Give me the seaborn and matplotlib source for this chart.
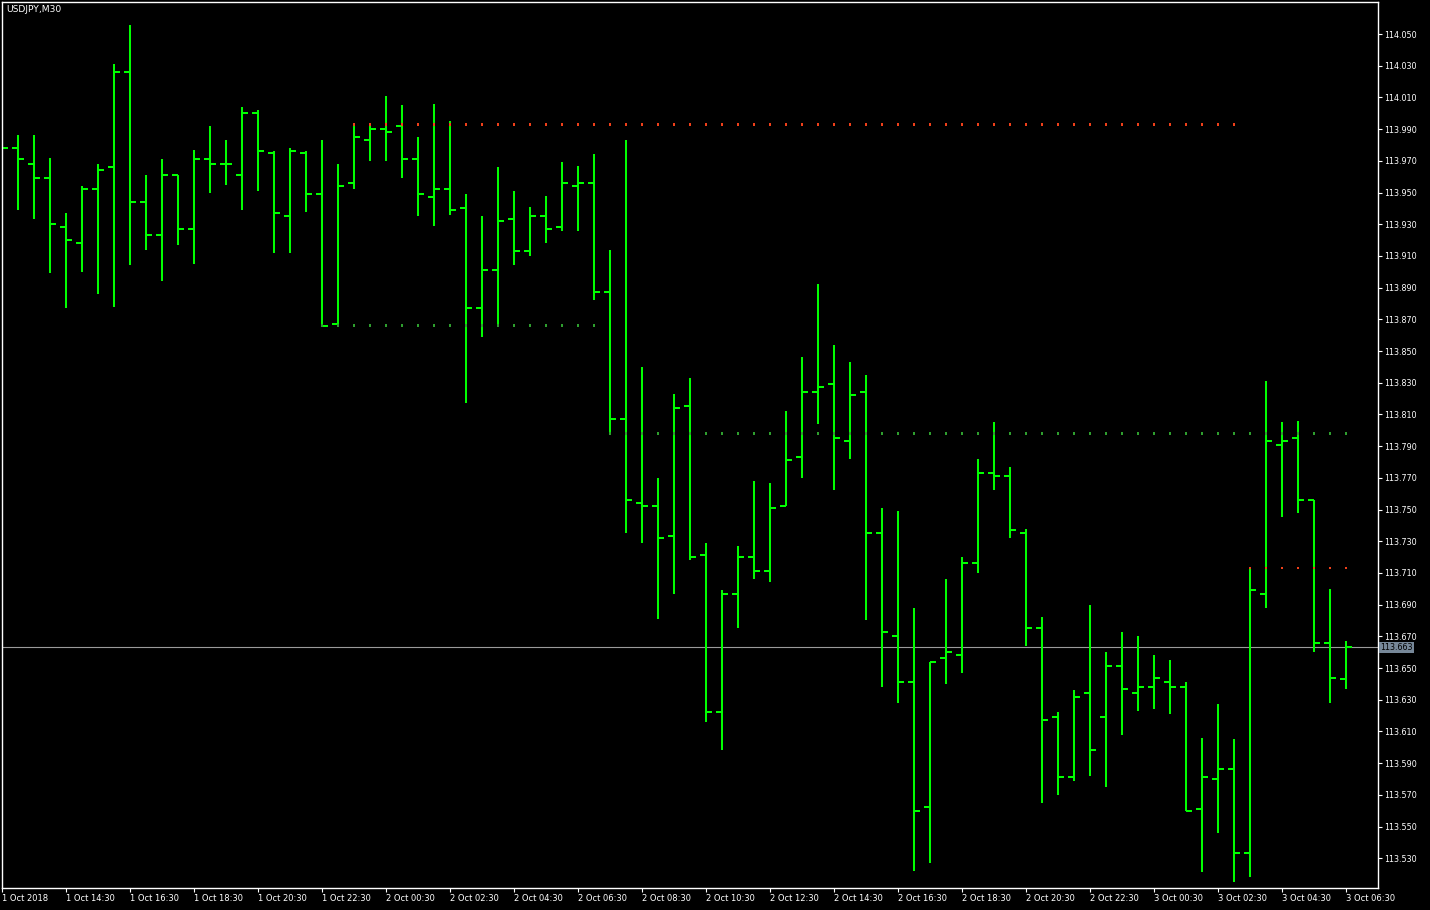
import numpy as np
import pandas as pd
import matplotlib
matplotlib.use('Agg')
import matplotlib.pyplot as plt
import matplotlib.transforms as mtransforms
import seaborn as sns

# USDJPY M30 bars, 1 Oct 2018 12:30 -> 3 Oct 2018 06:30 (85 bars)
opens = [113.978, 113.978, 113.968, 113.959, 113.928, 113.918, 113.952, 113.966, 114.026, 113.944,
         113.923, 113.961, 113.927, 113.971, 113.968, 113.961, 114.000, 113.975, 113.935, 113.975,
         113.949, 113.867, 113.956, 113.983, 113.990, 113.992, 113.971, 113.947, 113.952, 113.940,
         113.877, 113.901, 113.933, 113.913, 113.935, 113.928, 113.954, 113.956, 113.887, 113.807,
         113.754, 113.752, 113.733, 113.815, 113.721, 113.622, 113.697, 113.720, 113.711, 113.752,
         113.783, 113.824, 113.829, 113.793, 113.824, 113.735, 113.670, 113.641, 113.562, 113.656,
         113.658, 113.716, 113.773, 113.771, 113.735, 113.675, 113.619, 113.581, 113.634, 113.619,
         113.651, 113.634, 113.638, 113.641, 113.638, 113.561, 113.580, 113.586, 113.533, 113.697,
         113.791, 113.795, 113.756, 113.666, 113.643]
highs = [113.982, 113.986, 113.986, 113.972, 113.937, 113.954, 113.968, 114.031, 114.056, 113.961,
         113.971, 113.961, 113.977, 113.992, 113.983, 114.004, 114.002, 113.976, 113.978, 113.976,
         113.983, 113.968, 113.993, 113.992, 114.011, 114.005, 113.985, 114.006, 113.995, 113.949,
         113.935, 113.966, 113.951, 113.941, 113.948, 113.969, 113.967, 113.974, 113.914, 113.983,
         113.840, 113.770, 113.823, 113.833, 113.729, 113.699, 113.727, 113.768, 113.767, 113.812,
         113.846, 113.892, 113.854, 113.843, 113.835, 113.751, 113.749, 113.688, 113.654, 113.706,
         113.720, 113.782, 113.805, 113.777, 113.738, 113.682, 113.622, 113.636, 113.690, 113.660,
         113.673, 113.670, 113.658, 113.655, 113.641, 113.606, 113.627, 113.605, 113.713, 113.831,
         113.805, 113.806, 113.756, 113.700, 113.667]
lows = [113.975, 113.939, 113.933, 113.899, 113.877, 113.900, 113.886, 113.878, 113.904, 113.914,
        113.894, 113.917, 113.905, 113.950, 113.955, 113.939, 113.951, 113.912, 113.912, 113.938,
        113.866, 113.866, 113.952, 113.970, 113.970, 113.959, 113.935, 113.929, 113.936, 113.817,
        113.859, 113.866, 113.904, 113.910, 113.918, 113.926, 113.926, 113.882, 113.798, 113.735,
        113.729, 113.681, 113.697, 113.718, 113.616, 113.598, 113.675, 113.706, 113.704, 113.752,
        113.770, 113.804, 113.762, 113.782, 113.680, 113.638, 113.628, 113.522, 113.527, 113.640,
        113.647, 113.710, 113.762, 113.732, 113.664, 113.565, 113.570, 113.579, 113.582, 113.575,
        113.608, 113.623, 113.624, 113.621, 113.560, 113.521, 113.546, 113.515, 113.518, 113.688,
        113.745, 113.748, 113.660, 113.628, 113.637]
closes = [113.978, 113.971, 113.959, 113.930, 113.920, 113.952, 113.964, 114.026, 113.944, 113.923,
          113.961, 113.927, 113.971, 113.968, 113.968, 114.000, 113.976, 113.937, 113.976, 113.949,
          113.866, 113.954, 113.985, 113.990, 113.988, 113.971, 113.949, 113.952, 113.939, 113.877,
          113.901, 113.932, 113.913, 113.935, 113.927, 113.956, 113.956, 113.887, 113.807, 113.756,
          113.752, 113.732, 113.814, 113.720, 113.622, 113.697, 113.720, 113.711, 113.751, 113.781,
          113.824, 113.827, 113.795, 113.822, 113.735, 113.673, 113.641, 113.560, 113.654, 113.660,
          113.716, 113.773, 113.771, 113.737, 113.675, 113.617, 113.581, 113.632, 113.598, 113.651,
          113.637, 113.638, 113.644, 113.638, 113.560, 113.581, 113.586, 113.533, 113.699, 113.793,
          113.793, 113.756, 113.666, 113.644, 113.663]

# support / resistance levels (dotted)
level_price = [113.866, 113.993, 113.798, 113.713]
level_start = [20, 22, 38, 78]
level_end = [37, 77, 84, 84]
level_kind = ['support', 'resistance', 'support', 'resistance']

bid = 113.663
time_labels = ['1 Oct 2018', '1 Oct 14:30', '1 Oct 16:30', '1 Oct 18:30', '1 Oct 20:30',
               '1 Oct 22:30', '2 Oct 00:30', '2 Oct 02:30', '2 Oct 04:30', '2 Oct 06:30',
               '2 Oct 08:30', '2 Oct 10:30', '2 Oct 12:30', '2 Oct 14:30', '2 Oct 16:30',
               '2 Oct 18:30', '2 Oct 20:30', '2 Oct 22:30', '3 Oct 00:30', '3 Oct 02:30',
               '3 Oct 04:30', '3 Oct 06:30']
price_ticks = [113.53, 113.55, 113.57, 113.59, 113.61, 113.63, 113.65, 113.67, 113.69,
               113.71, 113.73, 113.75, 113.77, 113.79, 113.81, 113.83, 113.85, 113.87,
               113.89, 113.91, 113.93, 113.95, 113.97, 113.99, 114.01, 114.03, 114.05]

sns.set_style('dark', {'axes.facecolor': 'black', 'figure.facecolor': 'black',
                       'axes.edgecolor': 'white', 'xtick.color': 'white', 'ytick.color': 'white',
                       'text.color': 'white'})
plt.rcParams['font.family'] = ['DejaVu Sans']

fig = plt.figure(figsize=(14.3, 9.1), dpi=100)
ax = fig.add_axes([2 / 1430, 22 / 910, 1376 / 1430, 886 / 910])
ax.set_facecolor('black')

# bid line
ax.axhline(bid, color='#9a9a9a', lw=0.8, zorder=1.5)

# OHLC bars
idx = np.arange(len(opens))
green = '#00ff00'
ax.vlines(idx, lows, highs, color=green, lw=1.45, capstyle='butt', zorder=2)
ax.hlines(opens, idx - 0.38, idx, color=green, lw=1.45, capstyle='butt', zorder=2)
ax.hlines(closes, idx, idx + 0.38, color=green, lw=1.45, capstyle='butt', zorder=2)

# level dots, drawn over the bars like the terminal does
rows = []
for p, s, e, k in zip(level_price, level_start, level_end, level_kind):
    for b in range(s, e + 1):
        rows.append({'bar': b, 'price': p, 'kind': k})
df_lv = pd.DataFrame(rows)
sns.scatterplot(data=df_lv, x='bar', y='price', hue='kind', marker='s', s=3, linewidth=0,
                palette={'support': '#2e9e2e', 'resistance': '#f0401a'}, legend=False,
                ax=ax, zorder=3)

ax.set_xlim(0, 86)
ax.set_ylim(113.5112, 114.0702)

ax.set_xticks(np.arange(0, len(opens), 4))
ax.set_xticklabels(time_labels, fontsize=6.0, color='white')
for lb in ax.get_xticklabels():
    lb.set_ha('left')
ax.tick_params(axis='x', direction='out', length=3, width=0.8, pad=1.5, color='white', bottom=True)

ax.yaxis.tick_right()
ax.set_yticks(price_ticks)
ax.set_yticklabels(['%.3f' % v for v in price_ticks], fontsize=5.8, color='white')
ax.tick_params(axis='y', direction='out', length=3, width=0.8, pad=1.5, color='white', right=True)

for sp in ax.spines.values():
    sp.set_color('white')
    sp.set_linewidth(1)
    sp.set_visible(True)

ax.set_xlabel('')
ax.set_ylabel('')
ax.grid(False)

trans = mtransforms.blended_transform_factory(ax.transAxes, ax.transData)
ax.text(1.0018, bid, '%.3f' % bid, transform=trans, va='center', ha='left', fontsize=5.8,
        color='black', bbox=dict(boxstyle='square,pad=0.15', fc='#778899', ec='none'),
        clip_on=False)

fig.text(6 / 1430, 1 - 9 / 910, 'USDJPY,M30', fontsize=6.6, color='white', va='center', ha='left')

fig.savefig('out.png', dpi=100, facecolor='black')
